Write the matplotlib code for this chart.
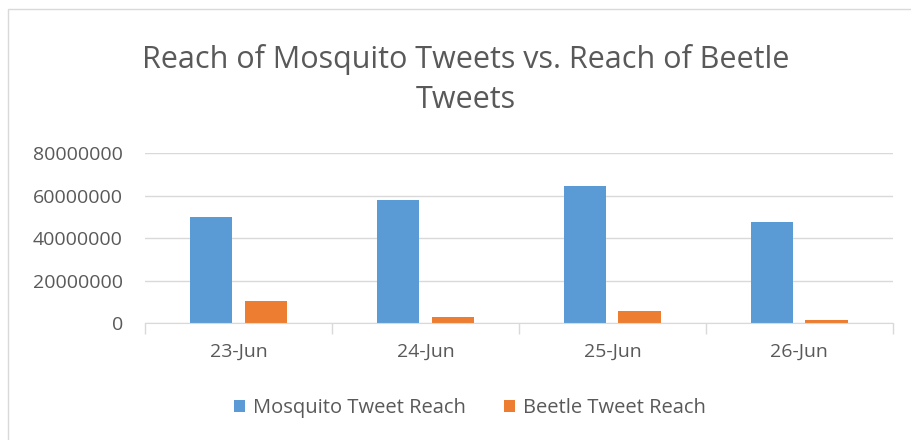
import matplotlib.pyplot as plt
import numpy as np

plt.rcParams['font.family'] = ['Open Sans', 'DejaVu Sans']

# data
dates = ['23-Jun', '24-Jun', '25-Jun', '26-Jun']
mosquito = [50000000, 57800000, 64300000, 47500000]
beetle = [10500000, 3000000, 5800000, 1200000]

blue = '#5b9bd5'
orange = '#ed7d31'
text_col = '#595959'
grid_col = '#d9d9d9'

fig = plt.figure(figsize=(9.12, 4.4), dpi=100)
fig.patch.set_facecolor('white')
# light border round the chart
fig.add_artist(plt.Rectangle((0.009, -0.05), 1.1, 1.03, transform=fig.transFigure,
                             fill=False, edgecolor=grid_col, linewidth=1))

ax = fig.add_axes([0.159, 0.266, 0.82, 0.386])
x = np.arange(len(dates))
w = 0.225
ax.bar(x - 0.145, mosquito, w, color=blue, label='Mosquito Tweet Reach')
ax.bar(x + 0.145, beetle, w, color=orange, label='Beetle Tweet Reach')

ax.set_xlim(-0.5, len(dates) - 0.5)
ax.set_ylim(0, 80000000)
ax.set_yticks([0, 20000000, 40000000, 60000000, 80000000])
ax.set_yticklabels(['0', '20000000', '40000000', '60000000', '80000000'])
ax.set_xticks(x)
ax.set_xticklabels(dates)
ax.set_xticks(np.arange(-0.5, len(dates), 1.0), minor=True)
ax.tick_params(axis='x', which='major', length=0, pad=14, labelsize=14, colors=text_col)
ax.tick_params(axis='x', which='minor', length=8, color=grid_col, width=1)
ax.tick_params(axis='y', length=0, pad=16, labelsize=14, colors=text_col)

ax.yaxis.grid(True, color=grid_col, linewidth=1)
ax.set_axisbelow(True)
for s in ['top', 'right', 'left']:
    ax.spines[s].set_visible(False)
ax.spines['bottom'].set_color(grid_col)

fig.text(0.511, 0.82, 'Reach of Mosquito Tweets vs. Reach of Beetle\nTweets',
         ha='center', va='center', fontsize=22, color=text_col, linespacing=1.45)

fig.legend(loc='center', bbox_to_anchor=(0.515, 0.073), ncol=2, frameon=False,
           fontsize=14.5, labelcolor=text_col, handlelength=0.55, handleheight=0.55,
           handletextpad=0.4, columnspacing=1.9)

plt.savefig('out.png', dpi=100)
